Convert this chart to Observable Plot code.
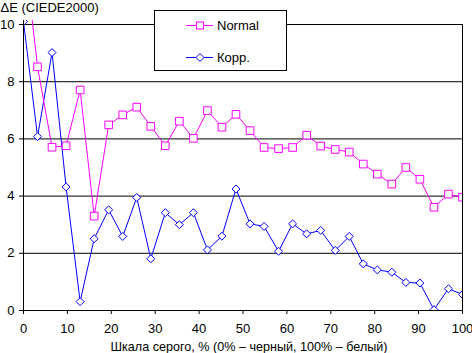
<!DOCTYPE html>
<html>
<head>
<meta charset="utf-8">
<script src="https://cdn.jsdelivr.net/npm/d3@7"></script>
<script src="https://cdn.jsdelivr.net/npm/@observablehq/plot@0.6"></script>
<style>
  html, body { margin: 0; padding: 0; background: #fff; }
  #wrap { position: relative; width: 472px; height: 353px; font-family: "Liberation Sans", Arial, sans-serif; }
  #legend { position: absolute; left: 154px; top: 10px; width: 131px; height: 59px; border: 1px solid #000; background: #fff; }
</style>
</head>
<body>
<div id="wrap"></div>
<script>
const gray = [0, 3.2, 6.5, 9.7, 12.9, 16.1, 19.4, 22.6, 25.8, 29.0, 32.3, 35.5, 38.7, 41.9, 45.2, 48.4,
              51.6, 54.8, 58.1, 61.3, 64.5, 67.7, 71.0, 74.2, 77.4, 80.6, 83.9, 87.1, 90.3, 93.5, 96.8, 100];
const normal = [12.8, 8.52, 5.71, 5.76, 7.71, 3.30, 6.49, 6.84, 7.11, 6.44, 5.76, 6.62, 6.02, 6.99, 6.41, 6.86,
                6.29, 5.70, 5.66, 5.70, 6.13, 5.75, 5.63, 5.54, 5.12, 4.77, 4.42, 5.00, 4.59, 3.61, 4.07, 3.96];
const korr = [10.1, 6.08, 9.02, 4.32, 0.31, 2.51, 3.52, 2.59, 3.95, 1.81, 3.42, 3.00, 3.42, 2.12, 2.60, 4.25,
              3.03, 2.94, 2.07, 3.03, 2.68, 2.80, 2.10, 2.59, 1.63, 1.42, 1.34, 0.98, 0.96, 0.03, 0.76, 0.56];
const seriesNames = ["Normal", "Корр."];
const colors = ["#FF00FF", "#0000FF"];
const xTicks = [0, 10, 20, 30, 40, 50, 60, 70, 80, 90, 100];
const yTicks = [0, 2, 4, 6, 8, 10];
const yTitle = "ΔE (CIEDE2000)";
const xTitle = "Шкала серого, % (0% – черный, 100% – белый)";

const dN = gray.map((x, i) => ({x, y: normal[i]}));
const dK = gray.map((x, i) => ({x, y: korr[i]}));

const chart = Plot.plot({
  width: 472,
  height: 353,
  marginLeft: 23,
  marginRight: 10,
  marginTop: 20,
  marginBottom: 43,
  style: {fontFamily: "'Liberation Sans', Arial, sans-serif", fontSize: "13px", color: "#000", background: "#fff"},
  x: {domain: [0, 100]},
  y: {domain: [0, 10.14]},
  marks: [
    Plot.ruleY(yTicks.filter(d => d > 0), {stroke: "#000", strokeWidth: 1}),
    Plot.ruleX([100], {y1: 0, y2: 10, stroke: "#000", strokeWidth: 1}),
    Plot.axisX({ticks: xTicks, tickSize: 4, tickPadding: 9, label: null, tickFormat: d => d, stroke: "#000"}),
    Plot.axisY({ticks: yTicks, tickSize: 4, tickPadding: 5, label: null, tickFormat: d => d, stroke: "#000"}),
    Plot.line(dK, {x: "x", y: "y", stroke: colors[1], strokeWidth: 1, clip: true}),
    Plot.line(dN, {x: "x", y: "y", stroke: colors[0], strokeWidth: 1, clip: true}),
    Plot.dot(dK, {x: "x", y: "y", symbol: "diamond2", r: 3.6, stroke: colors[1], fill: "#fff", strokeWidth: 1, clip: true}),
    Plot.dot(dN, {x: "x", y: "y", symbol: "square", r: 4.3, stroke: colors[0], fill: "#fff", strokeWidth: 1, clip: true}),
    Plot.ruleX([0], {y1: 0, y2: 10.14, stroke: "#000", strokeWidth: 1}),
    Plot.ruleY([0], {stroke: "#000", strokeWidth: 1}),
    Plot.text([yTitle], {frameAnchor: "top-left", dx: -23, dy: -13, textAnchor: "start", lineAnchor: "middle", fontSize: 13, fill: "#000"}),
    Plot.text([xTitle], {frameAnchor: "bottom", dx: 6, dy: 36, lineAnchor: "middle", fontSize: 12.6, fill: "#000"})
  ]
});

const wrap = document.getElementById("wrap");
wrap.appendChild(chart);

// legend
const leg = document.createElement("div");
leg.id = "legend";
wrap.appendChild(leg);
const lsvg = d3.select(leg).append("svg").attr("width", 131).attr("height", 59).style("display", "block");
const rows = [14, 46];
seriesNames.forEach((name, i) => {
  const g = lsvg.append("g").attr("transform", `translate(0,${rows[i]})`);
  g.append("line").attr("x1", 31).attr("x2", 58).attr("y1", 0.5).attr("y2", 0.5).attr("stroke", colors[i]);
  if (i === 0) {
    g.append("rect").attr("x", 41.5).attr("y", -3).attr("width", 7).attr("height", 7).attr("fill", "#fff").attr("stroke", colors[i]);
  } else {
    g.append("path").attr("d", "M45,-3.5 L49,0.5 L45,4.5 L41,0.5 Z").attr("fill", "#fff").attr("stroke", colors[i]);
  }
  g.append("text").attr("x", 62).attr("y", 0).attr("dy", "0.35em").attr("font-size", 13)
    .attr("font-family", "'Liberation Sans', Arial, sans-serif").attr("fill", "#000").text(name);
});
</script>
</body>
</html>
